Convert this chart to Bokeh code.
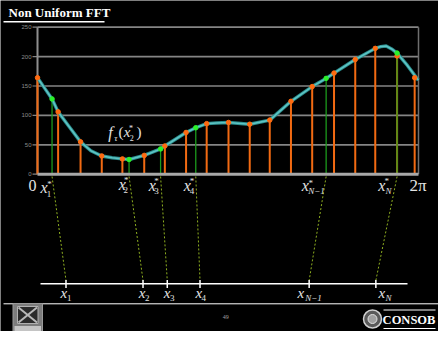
import math
from bokeh.plotting import figure
from bokeh.models import Range1d, Label
from bokeh.core.properties import value
from bokeh.embed import file_html
from bokeh.resources import INLINE

# ---------------- data ----------------
# uniform samples (orange stems)
orange_x = [0.00, 0.34, 0.71, 1.06, 1.40, 1.76, 2.10, 2.45, 2.79, 3.15,
            3.50, 3.83, 4.18, 4.53, 4.89, 5.24, 5.57, 5.93, 6.22]
orange_y = [164, 106, 55, 31, 26, 32, 48, 71, 86, 88,
            85, 92, 124, 149, 172, 195, 214, 201, 164]
# non-uniform points x_j* (green stems)
green_x = [0.24, 1.51, 2.03, 2.61, 4.76, 5.93]
green_y = [128, 25, 43, 79, 163, 206]
# the smooth function f_tau
curve_x = [0.00, 0.12, 0.24, 0.34, 0.52, 0.71, 0.88, 1.06, 1.23, 1.40, 1.51,
           1.76, 2.03, 2.10, 2.45, 2.61, 2.79, 2.95, 3.15, 3.50, 3.83, 4.18,
           4.53, 4.76, 4.89, 5.24, 5.57, 5.66, 5.75, 5.84, 5.93, 6.10, 6.28]
curve_y = [164, 146, 128, 106, 81, 55, 40, 31, 28, 26, 25,
           32, 43, 48, 71, 79, 86, 87, 88, 85, 92, 124,
           149, 163, 172, 195, 214, 217, 218, 213, 206, 185, 160]
# positions x_j on the lower axis
grid_x = [0.47, 1.74, 2.14, 2.68, 4.48, 5.58]
index_labels = ["1", "2", "3", "4", "N\u22121", "N"]
ytick_vals = [0, 50, 100, 150, 200, 250]
ytick_labels = ["0", "50", "100", "150", "200", "250"]
end_labels = ["0", "2\u03c0"]
title_text = "Non Uniform FFT"
page_number = "49"
logo_text = "CONSOB"

# ---------------- layout (reference pixels -> data units) ----------------
TWO_PI = 2 * math.pi
X0, X1 = 37.0, 418.0
Y0, Y250 = 173.7, 26.7
KX = (X1 - X0) / TWO_PI
KY = (Y0 - Y250) / 250.0
W, H = 438, 331


def dx(X):
    return (X - X0) / KX


def dy(Y):
    return (Y0 - Y) / KY


p = figure(width=W, height=H, output_backend="svg", toolbar_location=None,
           x_range=Range1d(dx(0), dx(W)), y_range=Range1d(dy(H), dy(0)),
           x_axis_type=None, y_axis_type=None, min_border=0,
           background_fill_color="black", border_fill_color="black",
           outline_line_color=None)
p.min_border_left = p.min_border_right = p.min_border_top = p.min_border_bottom = 0
p.grid.visible = False

SERIF = "Liberation Serif"
TXT = "#e4e4e4"


def lab(text, X, Y, size, style="normal", color=TXT, align="center", font=SERIF):
    p.add_layout(Label(x=dx(X), y=dy(Y), text=text, text_font=font,
                       text_font_size=f"{size}px", text_font_style=style,
                       text_color=color, text_align=align, text_baseline="middle"))


# ---- chart frame and grid ----
grid_vals = ytick_vals[1:]
p.segment(x0=[0] * len(grid_vals), y0=grid_vals, x1=[TWO_PI] * len(grid_vals), y1=grid_vals,
          line_color="#858585", line_width=1.7)
p.segment(x0=[dx(32)] * len(ytick_vals), y0=ytick_vals, x1=[0] * len(ytick_vals), y1=ytick_vals,
          line_color="#858585", line_width=1.2)
p.segment(x0=[0], y0=[0], x1=[0], y1=[250], line_color="#8e8e8e", line_width=2)
p.segment(x0=[TWO_PI], y0=[0], x1=[TWO_PI], y1=[250], line_color="#6e6e6e", line_width=1.5)
p.text(x=[dx(31)] * len(ytick_vals), y=ytick_vals, text=ytick_labels,
       text_font=value("Liberation Sans"), text_font_size="6px", text_color="#8c8c8c",
       text_align="right", text_baseline="middle")

# ---- stems ----
p.segment(x0=orange_x, y0=[0] * len(orange_x), x1=orange_x, y1=orange_y,
          line_color="#f26a12", line_width=2)
p.segment(x0=green_x, y0=[0] * len(green_x), x1=green_x, y1=green_y,
          line_color="#1c9a1c", line_width=1.3)
p.segment(x0=[0], y0=[0], x1=[TWO_PI], y1=[0], line_color="#a8a8a8", line_width=3)

# ---- curve ----
p.line(curve_x, curve_y, line_color="#2a8c8c", line_width=3.4, line_join="round")
p.line(curve_x, curve_y, line_color="#5ec4c4", line_width=1.6, line_join="round")

# ---- dots ----
p.scatter(orange_x, orange_y, size=4.5, fill_color="#ff6a10", line_color="#ff6a10")
p.scatter(green_x, green_y, size=4.5, fill_color="#2bf02b", line_color="#2bf02b")

# ---- dotted links to lower axis ----
p.segment(x0=green_x, y0=[dy(176)] * len(green_x), x1=grid_x, y1=[dy(280)] * len(grid_x),
          line_color="#8fb020", line_width=1, line_dash="2 2")

# ---- lower axis ----
p.segment(x0=[dx(40)], y0=[dy(283.3)], x1=[dx(407)], y1=[dy(283.3)],
          line_color="white", line_width=1.5)
p.segment(x0=grid_x, y0=[dy(279.5)] * len(grid_x), x1=grid_x, y1=[dy(287.5)] * len(grid_x),
          line_color="white", line_width=1.5)

# ---- axis end labels ----
lab(end_labels[0], 32, 185, 16)
lab(end_labels[1], 417.5, 185, 17)

# ---- x_j* labels (x, *, subscript positions in reference pixels) ----
star_pos = [((43.5, 187), (49, 181), (48.5, 193)),
            ((121.7, 183.5), (125.8, 177.5), (125.2, 189)),
            ((151.7, 185), (156, 178.5), (156, 190)),
            ((186.7, 185), (191.5, 178.5), (191.5, 190)),
            ((304.7, 185), (310.3, 180), (316, 190.5)),
            ((381.3, 185), (386.3, 178.5), (388, 190))]
for lbl, (xp, sp, ip) in zip(index_labels, star_pos):
    lab("x", xp[0], xp[1], 16, "italic")
    lab("*", sp[0], sp[1] + 2, 9)
    lab(lbl, ip[0], ip[1], 9, "italic" if "N" in lbl else "normal")

# ---- x_j labels below the lower axis ----
low_x = [63.3, 141.7, 166.7, 198.3, 300.3, 381.3]
low_sub = [68.7, 146.7, 171.7, 203.3, 313.0, 388.0]
for lbl, xx, sx in zip(index_labels, low_x, low_sub):
    lab("x", xx, 292.5, 15, "italic")
    lab(lbl, sx, 297, 9, "italic" if "N" in lbl else "normal")

# ---- f_tau(x_2*) annotation ----
lab("f", 110, 131.5, 16, "italic")
lab("\u03c4", 115.3, 137, 9, "italic")
lab("(", 120.5, 131.5, 15)
lab("x", 126.7, 131.5, 15, "italic")
lab("*", 130.5, 127.5, 8)
lab("2", 131.3, 137, 8)
lab(")", 138.5, 131.5, 15)

# ---- title ----
lab(title_text, 8, 11.5, 13, "bold", color="white", align="left")
p.segment(x0=[dx(3)], y0=[dy(21.3)], x1=[dx(104)], y1=[dy(21.3)], line_color="white", line_width=1.5)

# ---- footer ----
p.segment(x0=[dx(3)], y0=[dy(303.3)], x1=[dx(W)], y1=[dy(303.3)], line_color="white", line_width=1)
p.quad(left=[dx(12.5)], right=[dx(42)], top=[dy(303)], bottom=[dy(331)],
       fill_color="#7c7c7c", line_color="#9a9a9a", line_width=1)
p.quad(left=[dx(17)], right=[dx(37.5)], top=[dy(306)], bottom=[dy(323)],
       fill_color="#2a2a2a", line_color="#b0b0b0", line_width=1)
p.segment(x0=[dx(18), dx(18)], y0=[dy(307), dy(322)], x1=[dx(36.5), dx(36.5)], y1=[dy(322), dy(307)],
          line_color="#b8b8b8", line_width=2)
p.quad(left=[dx(14)], right=[dx(40.5)], top=[dy(325.5)], bottom=[dy(330.5)],
       fill_color="#c4c4c4", line_color=None)
lab(page_number, 225.3, 316, 6, color="#a0a0a0")
p.scatter([dx(372)], [dy(318.5)], size=18, fill_color="#5a5a5a", line_color="#d0d0d0", line_width=1.5)
p.scatter([dx(372)], [dy(318.5)], size=9, fill_color="#a0a0a0", line_color="#e0e0e0", line_width=1)
lab(logo_text, 408.5, 319, 12.5, "bold", color="white")
p.segment(x0=[dx(383), dx(383)], y0=[dy(309.5), dy(328)], x1=[dx(435), dx(435)], y1=[dy(309.5), dy(328)],
          line_color="white", line_width=1)

open("out.html", "w").write(file_html(p, INLINE))
